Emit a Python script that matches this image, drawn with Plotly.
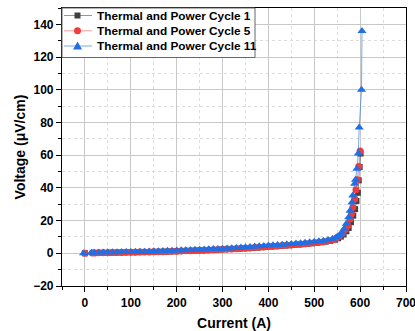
import plotly.graph_objects as go

# Cycle 1 (gray squares)
c1_current = [0, 18, 25, 35, 45, 55, 65, 75, 85, 95, 105, 115, 125, 135, 145, 155, 165, 175, 185, 195,
              205, 215, 225, 235, 245, 255, 265, 275, 285, 295, 305, 315, 325, 335, 345, 355, 365, 375,
              385, 395, 405, 415, 425, 435, 445, 455, 465, 475, 485, 495, 505, 515, 525, 535, 545, 552,
              558, 564, 570, 575, 580, 585, 589, 592, 595, 597, 599, 601]
c1_voltage = [0, 0.2, 0.25, 0.3, 0.35, 0.4, 0.45, 0.5, 0.55, 0.6, 0.65, 0.7, 0.75, 0.8, 0.85, 0.9, 0.95, 1.0, 1.1, 1.2,
              1.3, 1.4, 1.5, 1.6, 1.7, 1.8, 1.9, 2.0, 2.1, 2.25, 2.4, 2.55, 2.7, 2.85, 3.0, 3.15, 3.3, 3.5,
              3.7, 3.9, 4.1, 4.3, 4.5, 4.7, 4.9, 5.1, 5.35, 5.6, 5.85, 6.1, 6.4, 6.7, 7.1, 7.6, 8.3, 9.2,
              10.2, 11.5, 13.5, 15.5, 19, 23, 27, 32, 37, 44.6, 52.8, 61]

# Cycle 5 (red circles)
c5_current = [0, 16, 22, 30, 40, 50, 60, 70, 80, 90, 100, 110, 120, 130, 140, 150, 160, 170, 180, 190,
              200, 210, 220, 230, 240, 250, 260, 270, 280, 290, 300, 310, 320, 330, 340, 350, 360, 370,
              380, 390, 400, 410, 420, 430, 440, 450, 460, 470, 480, 490, 500, 510, 520, 530, 540, 548,
              555, 562, 568, 573, 578, 581, 584, 588, 591, 594, 597, 600]
c5_voltage = [0, 0.2, 0.25, 0.3, 0.35, 0.4, 0.45, 0.5, 0.55, 0.6, 0.65, 0.7, 0.75, 0.8, 0.85, 0.9, 0.95, 1.0, 1.1, 1.2,
              1.3, 1.4, 1.5, 1.6, 1.7, 1.8, 1.9, 2.0, 2.1, 2.25, 2.4, 2.55, 2.7, 2.85, 3.0, 3.15, 3.3, 3.5,
              3.7, 3.9, 4.1, 4.3, 4.5, 4.7, 4.9, 5.1, 5.35, 5.6, 5.85, 6.1, 6.4, 6.7, 7.1, 7.6, 8.3, 9.2,
              10.5, 12.2, 14.5, 17, 21, 24, 28, 33, 38.9, 45, 53, 62.6]

# Cycle 11 (blue triangles)
c11_current = [-3, 14, 20, 30, 40, 50, 60, 70, 80, 90, 100, 110, 120, 130, 140, 150, 160, 170, 180, 190,
               200, 210, 220, 230, 240, 250, 260, 270, 280, 290, 300, 310, 320, 330, 340, 350, 360, 370,
               380, 390, 400, 410, 420, 430, 440, 450, 460, 470, 480, 490, 500, 510, 520, 530, 540, 548,
               555, 560, 565, 570, 575, 578, 582, 584, 588, 590, 593, 596, 598, 603, 604]
c11_voltage = [0, 0.4, 0.45, 0.5, 0.55, 0.6, 0.65, 0.7, 0.75, 0.8, 0.85, 0.9, 0.95, 1.0, 1.1, 1.2, 1.3, 1.4, 1.5, 1.6,
               1.7, 1.8, 1.9, 2.0, 2.1, 2.2, 2.3, 2.4, 2.55, 2.7, 2.85, 3.0, 3.15, 3.3, 3.5, 3.7, 3.9, 4.1,
               4.3, 4.5, 4.7, 4.9, 5.1, 5.3, 5.5, 5.7, 5.95, 6.2, 6.45, 6.7, 7.0, 7.3, 7.7, 8.2, 8.9, 9.8,
               11, 12.5, 15, 18, 22, 26, 31, 35.4, 42.5, 45, 51.7, 61, 77, 100, 136]

series_names = ["Thermal and Power Cycle 1", "Thermal and Power Cycle 5", "Thermal and Power Cycle 11"]

x_ticks = [0, 100, 200, 300, 400, 500, 600, 700]
y_ticks = [-20, 0, 20, 40, 60, 80, 100, 120, 140]

W, H = 415, 331
ML, MR, MT, MB = 62, 9, 8, 45

marker_colors = ["#404040", "#f03c3c", "#1f6fe5"]
line_colors = ["rgba(64,64,64,0.55)", "rgba(240,60,60,0.5)", "rgba(31,111,229,0.6)"]
symbols = ["square", "circle", "triangle-up"]
sizes = [6, 7, 8]

fig = go.Figure()
for xs, ys, name, mc, lc, sym, sz in zip(
        [c1_current, c5_current, c11_current], [c1_voltage, c5_voltage, c11_voltage],
        series_names, marker_colors, line_colors, symbols, sizes):
    fig.add_trace(go.Scatter(
        x=xs, y=ys, name=name, mode="lines+markers", showlegend=False,
        line=dict(color=lc, width=1),
        marker=dict(symbol=sym, size=sz, color=mc)))

bold_font = dict(family="Liberation Sans, Arial", color="black", weight="bold")

axis_common = dict(
    showline=True, linecolor="black", linewidth=1.2, mirror=True,
    ticks="outside", ticklen=5, tickcolor="black", tickwidth=1,
    showgrid=True, gridcolor="#c8c8c8", gridwidth=1, zeroline=False,
    tickfont=dict(size=12, **bold_font), automargin=False,
)

fig.update_xaxes(
    range=[-50, 700], tickvals=x_ticks, ticklabeloverflow="allow",
    minor=dict(ticks="outside", ticklen=3, tickcolor="black", dtick=50, showgrid=True,
               gridcolor="#dddddd", griddash="dot", gridwidth=1),
    title=dict(text="Current (A)", standoff=10, font=dict(size=14, **bold_font)),
    **axis_common)
fig.update_yaxes(
    range=[-20, 150], tickvals=y_ticks,
    minor=dict(ticks="outside", ticklen=3, tickcolor="black", dtick=10, showgrid=True,
               gridcolor="#dddddd", griddash="dot", gridwidth=1),
    title=dict(text="Voltage (μV/cm)", standoff=4, font=dict(size=14, **bold_font)),
    **axis_common)

# ---- hand-built legend (compact, like the original) ----
pw, ph = W - ML - MR, H - MT - MB
def px2x(px):
    return (px - ML) / pw
def py2y(py):
    return (H - MB - py) / ph

shapes = [dict(type="rect", xref="paper", yref="paper",
               x0=px2x(62), x1=px2x(255), y0=py2y(57.5), y1=py2y(8),
               line=dict(color="#666666", width=1), fillcolor="white", layer="above")]
annotations = []
row_y = [15.5, 30.8, 46]
for i in range(3):
    yc = py2y(row_y[i])
    shapes.append(dict(type="line", xref="paper", yref="paper",
                       x0=px2x(64), x1=px2x(92), y0=yc, y1=yc,
                       line=dict(color=line_colors[i], width=1), layer="above"))
    xa = px2x(77.5)
    if symbols[i] == "square":
        shapes.append(dict(type="rect", xref="paper", yref="paper", xsizemode="pixel", ysizemode="pixel",
                           xanchor=xa, yanchor=yc, x0=-3, x1=3, y0=-3, y1=3,
                           fillcolor=marker_colors[i], line=dict(width=0), layer="above"))
    elif symbols[i] == "circle":
        shapes.append(dict(type="circle", xref="paper", yref="paper", xsizemode="pixel", ysizemode="pixel",
                           xanchor=xa, yanchor=yc, x0=-3.5, x1=3.5, y0=-3.5, y1=3.5,
                           fillcolor=marker_colors[i], line=dict(width=0), layer="above"))
    else:
        shapes.append(dict(type="path", xref="paper", yref="paper", xsizemode="pixel", ysizemode="pixel",
                           xanchor=xa, yanchor=yc, path="M -4.5,-3.5 L 4.5,-3.5 L 0,4.5 Z",
                           fillcolor=marker_colors[i], line=dict(width=0), layer="above"))
    annotations.append(dict(xref="paper", yref="paper", x=px2x(95), y=yc,
                            xanchor="left", yanchor="middle", showarrow=False,
                            text=series_names[i], font=dict(size=11.8, **bold_font)))

fig.update_layout(
    width=W, height=H,
    margin=dict(l=ML, r=MR, t=MT, b=MB, autoexpand=False),
    plot_bgcolor="white", paper_bgcolor="white",
    showlegend=False,
    shapes=shapes, annotations=annotations,
)

fig.write_html("out.html")
